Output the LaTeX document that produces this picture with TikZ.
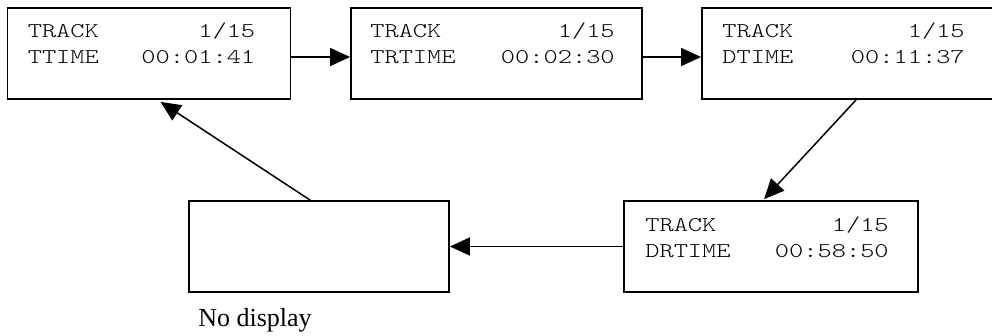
\documentclass[tikz,border=0pt]{standalone}
\usepackage{fontspec}
\setmainfont{Liberation Serif}
\setmonofont[FakeStretch=1.29]{Latin Modern Mono Light}
\usetikzlibrary{arrows.meta,calc}
\begin{document}
\begin{tikzpicture}[x=1pt,y=-1pt,
  lcd/.style={draw,line width=1.8pt,rectangle,minimum height=91pt,inner sep=0pt},
  arr/.style={line width=1.5pt,-{Triangle[length=20pt,width=18pt]}},
  txt/.style={font=\ttfamily\fontsize{21}{24}\selectfont,inner sep=0pt}]
\useasboundingbox (0,0) rectangle (992,335);
\node[lcd,minimum width=283pt] (b1) at (149,53.5) {};
\node[lcd,minimum width=291pt] (b2) at (496.5,53.5) {};
\node[lcd,minimum width=291pt] (b3) at (847.5,53.5) {};
\node[lcd,minimum width=260pt] (b4) at (319,246.5) {};
\node[lcd,minimum width=294pt] (b5) at (771,246.5) {};
% box 1
\node[txt,anchor=base west] (t1a) at ($(b1.north west)+(21,30)$) {TRACK};
\node[txt,anchor=base east] (v1a) at ($(b1.north east)+(-36,30)$) {1/15};
\node[txt,anchor=base west] (t1b) at ($(b1.north west)+(21,56)$) {TTIME};
\node[txt,anchor=base east] (v1b) at ($(b1.north east)+(-36,56)$) {00:01:41};
% box 2
\node[txt,anchor=base west] (t2a) at ($(b2.north west)+(20,30)$) {TRACK};
\node[txt,anchor=base east] (v2a) at ($(b2.north east)+(-28,30)$) {1/15};
\node[txt,anchor=base west] (t2b) at ($(b2.north west)+(20,56)$) {TRTIME};
\node[txt,anchor=base east] (v2b) at ($(b2.north east)+(-28,56)$) {00:02:30};
% box 3
\node[txt,anchor=base west] (t3a) at ($(b3.north west)+(21,30)$) {TRACK};
\node[txt,anchor=base east] (v3a) at ($(b3.north east)+(-29,30)$) {1/15};
\node[txt,anchor=base west] (t3b) at ($(b3.north west)+(21,56)$) {DTIME};
\node[txt,anchor=base east] (v3b) at ($(b3.north east)+(-29,56)$) {00:11:37};
% box 5
\node[txt,anchor=base west] (t5a) at ($(b5.north west)+(22,31)$) {TRACK};
\node[txt,anchor=base east] (v5a) at ($(b5.north east)+(-30,31)$) {1/15};
\node[txt,anchor=base west] (t5b) at ($(b5.north west)+(22,57)$) {DRTIME};
\node[txt,anchor=base east] (v5b) at ($(b5.north east)+(-30,57)$) {00:58:50};
% label
\node[font=\fontsize{26}{30}\selectfont,inner sep=0pt,anchor=base west] (nd) at ($(b4.south west)+(10,34)$) {No display};
% arrows
\draw[arr] ([yshift=-3.5pt]b1.east) -- ([yshift=-3.5pt]b2.west);
\draw[arr] ([yshift=-3.5pt]b2.east) -- ([yshift=-3.5pt]b3.west);
\draw[arr] ($(b3.south west)+(155,0)$) -- ($(b5.north west)+(141,-1)$);
\draw[arr] (b5.west) -- (b4.east);
\draw[arr] ($(b4.north west)+(122,0)$) -- ($(b1.south west)+(154,2)$);
\end{tikzpicture}
\end{document}
